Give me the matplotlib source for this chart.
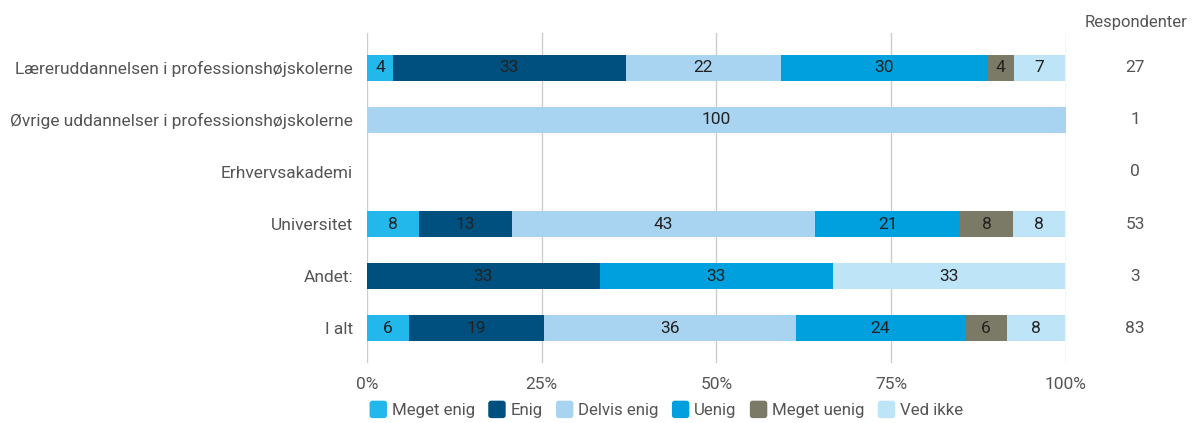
import matplotlib.pyplot as plt
import numpy as np
from matplotlib.patches import FancyBboxPatch
from matplotlib.legend_handler import HandlerPatch

plt.rcParams['font.family'] = ['Roboto', 'DejaVu Sans']

categories = [
    "Læreruddannelsen i professionshøjskolerne",
    "Øvrige uddannelser i professionshøjskolerne",
    "Erhvervsakademi",
    "Universitet",
    "Andet:",
    "I alt",
]
respondents = [27, 1, 0, 53, 3, 83]

series_names = ["Meget enig", "Enig", "Delvis enig", "Uenig", "Meget uenig", "Ved ikke"]
# percentages per row, one list per answer
meget_enig = [3.7, 0, 0, 7.5, 0, 6.0]
enig = [33.3, 0, 0, 13.2, 33.3, 19.3]
delvis_enig = [22.2, 100, 0, 43.4, 0, 36.1]
uenig = [29.6, 0, 0, 20.8, 33.3, 24.1]
meget_uenig = [3.7, 0, 0, 7.5, 0, 6.0]
ved_ikke = [7.4, 0, 0, 7.5, 33.3, 8.4]
series = [meget_enig, enig, delvis_enig, uenig, meget_uenig, ved_ikke]

colors = ["#22b8ec", "#00507f", "#a8d3f1", "#00a0df", "#7b7a66", "#bee4f8"]

fs = 12.5
fig = plt.figure(figsize=(11.98, 4.23), dpi=100)
ax = fig.add_axes([0.3063, 0.1418, 0.8898 - 0.3063, 0.922 - 0.1418])

y = np.arange(len(categories))
left = np.zeros(len(categories))
for name, vals, col in zip(series_names, series, colors):
    vals = np.array(vals, dtype=float)
    ax.barh(y, vals, left=left, height=0.5, color=col, label=name, zorder=3)
    for yi, v, l in zip(y, vals, left):
        if v > 0:
            ax.text(l + v / 2, yi, f"{v:.0f}", ha="center", va="center",
                    fontsize=fs, color="#222222", zorder=4)
    left += vals

ax.set_xlim(0, 100)
ax.set_ylim(len(categories) - 1 + 0.67, -0.67)
ax.set_xticks([0, 25, 50, 75, 100])
ax.set_xticklabels(["0%", "25%", "50%", "75%", "100%"])
ax.set_yticks(y)
ax.set_yticklabels(categories)
ax.tick_params(axis="both", length=0, labelsize=fs, labelcolor="#555555")
ax.tick_params(axis="x", pad=10)
ax.tick_params(axis="y", pad=10)
ax.grid(axis="x", color="#cccccc", linewidth=1, zorder=0)
for s in ax.spines.values():
    s.set_visible(False)

# respondent counts to the right
trans = ax.get_yaxis_transform()
ax.text(1136 / 1198, 1 - 22 / 423, "Respondenter", transform=fig.transFigure,
        ha="center", va="center", fontsize=12, color="#555555")
for yi, n in zip(y, respondents):
    ax.text((1135 - 367) / 699, yi, str(n), transform=trans, ha="center", va="center",
            fontsize=fs, color="#555555", clip_on=False)


class RoundBox(HandlerPatch):
    def create_artists(self, legend, orig_handle, xdescent, ydescent, width,
                       height, fontsize, trans):
        s = min(width, height) * 1.15
        p = FancyBboxPatch((-xdescent + (width - s) / 2, -ydescent + (height - s) / 2), s, s,
                           boxstyle="round,pad=0,rounding_size=2",
                           facecolor=orig_handle.get_facecolor(),
                           edgecolor="none", transform=trans)
        return [p]


handles, labels = ax.get_legend_handles_labels()
handles = [h.patches[0] for h in handles]
leg = fig.legend(handles, labels, loc="center left", bbox_to_anchor=(363 / 1198, 1 - 410 / 423),
                 ncol=6, frameon=False, fontsize=12.2, handlelength=1.0, handleheight=1.0,
                 handletextpad=0.3, columnspacing=0.8, borderaxespad=0,
                 handler_map={type(handles[0]): RoundBox()})
for t in leg.get_texts():
    t.set_color("#555555")

fig.savefig("out.png", dpi=100)
